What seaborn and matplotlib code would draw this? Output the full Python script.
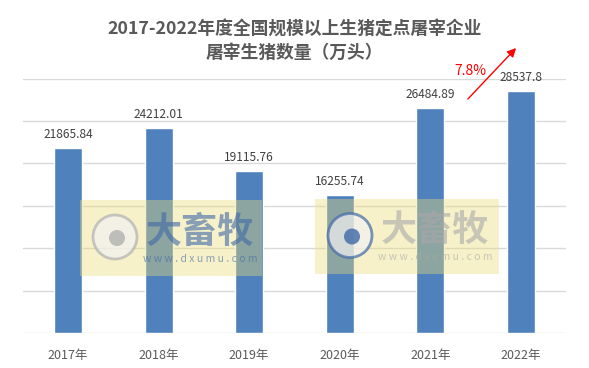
import matplotlib
matplotlib.use("Agg")
import matplotlib.pyplot as plt
import seaborn as sns
import pandas as pd
from matplotlib.patches import Rectangle, Circle, FancyArrowPatch

# chart data
years = ["2017年", "2018年", "2019年", "2020年", "2021年", "2022年"]
slaughter = [21865.84, 24212.01, 19115.76, 16255.74, 26484.89, 28537.8]
value_labels = ["21865.84", "24212.01", "19115.76", "16255.74", "26484.89", "28537.8"]
growth_label = "7.8%"
title_text = "2017-2022年度全国规模以上生猪定点屠宰企业\n屠宰生猪数量（万头）"

sns.set_style("white")
plt.rcParams["font.family"] = ["Noto Sans CJK SC", "DejaVu Sans"]

df = pd.DataFrame({"year": years, "value": slaughter})

fig = plt.figure(figsize=(5.89, 3.68), dpi=100)
ax = fig.add_axes([0.0386, 0.095, 0.9225, 0.6915])

sns.barplot(data=df, x="year", y="value", color="#4F81BD", saturation=1,
            width=0.31, ax=ax, zorder=3)

ax.set_ylim(0, 30000)
ax.set_yticks(range(0, 30001, 5000))
ax.yaxis.grid(True, color="#D9D9D9", linewidth=1)
ax.set_axisbelow(True)
ax.tick_params(axis="y", left=False, labelleft=False)
ax.tick_params(axis="x", bottom=False, pad=8, labelsize=9, labelcolor="#595959")
ax.set_xlabel("")
ax.set_ylabel("")
for s in ax.spines.values():
    s.set_visible(False)

# value labels above bars
for i, (v, lab) in enumerate(zip(slaughter, value_labels)):
    ax.annotate(lab, (i, v), xytext=(0, 5), textcoords="offset points",
                ha="center", va="bottom", fontsize=8.6, color="#404040")

# overlay in pixel units for the annotations and watermarks
ov = fig.add_axes([0, 0, 1, 1], zorder=5)
ov.set_xlim(0, 589)
ov.set_ylim(368, 0)
ov.axis("off")
ov.patch.set_alpha(0)

ov.add_patch(FancyArrowPatch((466, 101), (518, 46), arrowstyle="-|>",
                             mutation_scale=13, color="#FF0000", linewidth=1))
ov.text(470, 71, growth_label, color="#FF0000", fontsize=10,
        ha="center", va="center")

ov.text(294.5, 41, title_text, ha="center", va="center",
        fontsize=12.8, fontweight="bold", color="#595959", linespacing=1.35)

def watermark(x0, y0, x1, y1, circle_col, text_col):
    ov.add_patch(Rectangle((x0, y0), x1 - x0, y1 - y0, facecolor="#EBDC78",
                           alpha=0.4, edgecolor="none", zorder=10))
    cx, cy = x0 + 35, (y0 + y1) / 2 - 1
    ov.add_patch(Circle((cx, cy), 22, facecolor="#F2F2F2", edgecolor=circle_col,
                        linewidth=2, alpha=0.7, zorder=11))
    ov.add_patch(Circle((cx + 2, cy + 1), 8, facecolor=circle_col,
                        edgecolor="none", alpha=0.8, zorder=12))
    ov.text(x0 + 120, cy - 5, "大畜牧", fontsize=26, fontweight="bold",
            color=text_col, alpha=0.6, ha="center", va="center", zorder=12)
    ov.text(x0 + 120, cy + 22, "w w w . d x u m u . c o m", fontsize=7.5,
            color=text_col, alpha=0.6, ha="center", va="center", zorder=12)

watermark(80, 200, 262, 276, "#B0B0B0", "#3F68A8")
watermark(315, 199, 499, 274, "#3F68A8", "#A8A8A8")

fig.savefig("out.png", dpi=100)
